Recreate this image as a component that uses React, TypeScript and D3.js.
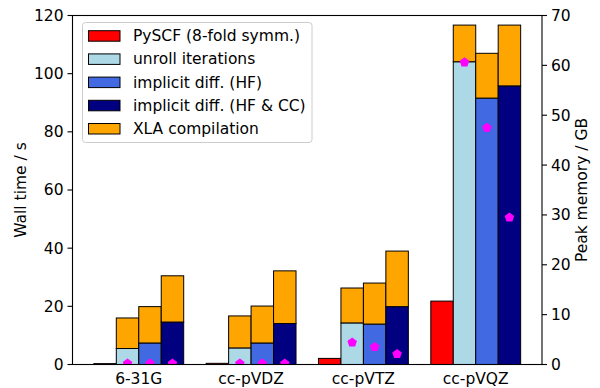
import React from "react";
import * as d3 from "d3";

const basisSets = ["6-31G", "cc-pVDZ", "cc-pVTZ", "cc-pVQZ"];
const pyscfTime = [0.3, 0.4, 2.1, 21.8];
const unrollTime = [5.5, 5.7, 14.3, 104.1];
const unrollTotal = [16.0, 16.7, 26.3, 116.7];
const hfTime = [7.4, 7.4, 13.9, 91.6];
const hfTotal = [19.9, 20.1, 28.0, 107.0];
const hfccTime = [14.6, 14.1, 19.9, 95.8];
const hfccTotal = [30.5, 32.2, 39.0, 116.7];
const unrollMem = [0.2, 0.2, 4.4, 60.6];
const hfMem = [0.2, 0.2, 3.5, 47.5];
const hfccMem = [0.2, 0.2, 2.1, 29.5];
const timeTicks = [0, 20, 40, 60, 80, 100, 120];
const memTicks = [0, 10, 20, 30, 40, 50, 60, 70];

const legendItems = [
  { label: "PySCF (8-fold symm.)", color: "#ff0000" },
  { label: "unroll iterations", color: "#add8e6" },
  { label: "implicit diff. (HF)", color: "#4169e1" },
  { label: "implicit diff. (HF & CC)", color: "#000080" },
  { label: "XLA compilation", color: "#ffa500" },
];

const left = 72.5, right = 542, top = 15.5, bottom = 364.5;
const W = 0.2;
const font = "'DejaVu Sans', sans-serif";
const fs = 15.5;

function pentagon(r: number) {
  const pts = d3.range(5).map((i) => {
    const a = -Math.PI / 2 + (i * 2 * Math.PI) / 5;
    return [r * Math.cos(a), r * Math.sin(a)];
  });
  return "M" + pts.map((p) => p.join(",")).join("L") + "Z";
}

export default function App() {
  const x = d3.scaleLinear().domain([-0.59, 3.59]).range([left, right]);
  const yL = d3.scaleLinear().domain([0, 120]).range([bottom, top]);
  const yR = d3.scaleLinear().domain([0, 70]).range([bottom, top]);
  const bw = x(W) - x(0);

  const series = [
    { base: pyscfTime, total: null as number[] | null, color: "#ff0000", off: -1.5, mem: null as number[] | null },
    { base: unrollTime, total: unrollTotal, color: "#add8e6", off: -0.5, mem: unrollMem },
    { base: hfTime, total: hfTotal, color: "#4169e1", off: 0.5, mem: hfMem },
    { base: hfccTime, total: hfccTotal, color: "#000080", off: 1.5, mem: hfccMem },
  ];

  const pent = pentagon(5);

  return (
    <svg width={600} height={388} style={{ position: "absolute", left: 0, top: 0 }} fontFamily={font}>
      <defs>
        <clipPath id="plot">
          <rect x={left} y={top} width={right - left} height={bottom - top} />
        </clipPath>
      </defs>
      <rect width={600} height={388} fill="#fff" />
      <g clipPath="url(#plot)">
        {series.map((s, si) =>
          basisSets.map((_, i) => {
            const cx = x(i + s.off * W);
            return (
              <g key={`b${si}-${i}`}>
                <rect x={cx - bw / 2} y={yL(s.base[i])} width={bw} height={yL(0) - yL(s.base[i])}
                  fill={s.color} stroke="#000" strokeWidth={1} />
                {s.total && (
                  <rect x={cx - bw / 2} y={yL(s.total[i])} width={bw} height={yL(s.base[i]) - yL(s.total[i])}
                    fill="#ffa500" stroke="#000" strokeWidth={1} />
                )}
              </g>
            );
          })
        )}
        {series.map((s, si) =>
          s.mem
            ? basisSets.map((_, i) => (
                <path key={`m${si}-${i}`} d={pent}
                  transform={`translate(${x(i + s.off * W)},${yR(s.mem![i])})`} fill="#ff00ff" />
              ))
            : null
        )}
      </g>
      <rect x={left} y={top} width={right - left} height={bottom - top} fill="none" stroke="#000" strokeWidth={1.1} />
      {timeTicks.map((t) => (
        <g key={`lt${t}`} transform={`translate(${left},${yL(t)})`}>
          <line x1={-5} x2={0} stroke="#000" strokeWidth={1.1} />
          <text x={-9} dy="0.35em" textAnchor="end" fontSize={fs}>{t}</text>
        </g>
      ))}
      {memTicks.map((t) => (
        <g key={`rt${t}`} transform={`translate(${right},${yR(t)})`}>
          <line x1={0} x2={5} stroke="#000" strokeWidth={1.1} />
          <text x={9} dy="0.35em" textAnchor="start" fontSize={fs}>{t}</text>
        </g>
      ))}
      {basisSets.map((b, i) => (
        <text key={b} x={x(i)} y={384} textAnchor="middle" fontSize={fs}>{b}</text>
      ))}
      <text transform={`translate(26,${(top + bottom) / 2}) rotate(-90)`} textAnchor="middle" fontSize={fs}>Wall time / s</text>
      <text transform={`translate(587,${(top + bottom) / 2}) rotate(-90)`} textAnchor="middle" fontSize={fs}>Peak memory / GB</text>
      <g>
        <rect x={82.5} y={22.5} width={229.5} height={120} rx={3} fill="#fff" fillOpacity={0.8} stroke="#cccccc" strokeWidth={1} />
        {legendItems.map((l, i) => {
          const cy = 35.7 + i * 23.2;
          return (
            <g key={l.label}>
              <rect x={88.5} y={cy - 5} width={31.5} height={10.5} fill={l.color} stroke="#000" strokeWidth={1} />
              <text x={133} y={cy} dy="0.35em" fontSize={fs}>{l.label}</text>
            </g>
          );
        })}
      </g>
    </svg>
  );
}
